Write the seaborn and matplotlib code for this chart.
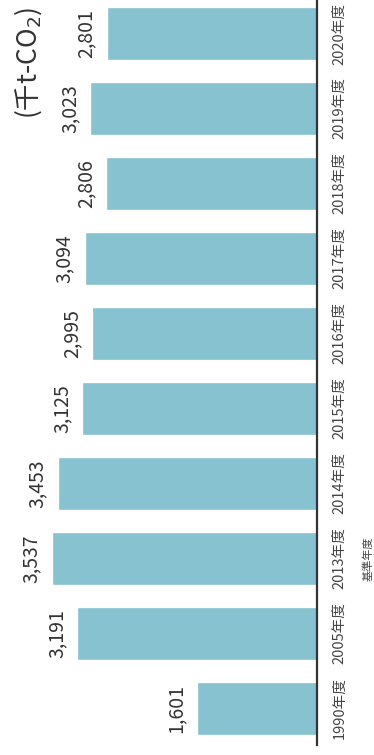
import matplotlib
matplotlib.use("Agg")
import matplotlib.pyplot as plt
import seaborn as sns
import pandas as pd

# Emissions by fiscal year (thousand t-CO2)
years = ["1990年度", "2005年度", "2013年度", "2014年度", "2015年度",
         "2016年度", "2017年度", "2018年度", "2019年度", "2020年度"]
emissions = [1601, 3191, 3537, 3453, 3125, 2995, 3094, 2806, 3023, 2801]
value_labels = ["1,601", "3,191", "3,537", "3,453", "3,125",
                "2,995", "3,094", "2,806", "3,023", "2,801"]
unit_label = "(千t-CO$_2$)"
base_year_note = "基準年度"
base_year = "2013年度"

sns.set_theme(style="white")
plt.rcParams["font.family"] = ["Noto Sans CJK JP", "DejaVu Sans"]

df = pd.DataFrame({"year": years, "value": emissions})
order = years[::-1]

W, H = 374, 755
fig = plt.figure(figsize=(W / 100, H / 100), dpi=100)
fig.patch.set_facecolor("white")
ax = fig.add_axes([0.0, 1 - 745 / H, 316.5 / W, 745 / H])

sns.barplot(data=df, x="value", y="year", order=order, orient="h",
            color="#86C2D0", saturation=1, width=0.7, ax=ax)

ax.set_xlim(4225, 0)
ax.set_ylim(9.487, -0.447)

for s in ["top", "bottom", "left"]:
    ax.spines[s].set_visible(False)
ax.spines["right"].set_visible(True)
ax.spines["right"].set_color("#333333")
ax.spines["right"].set_linewidth(1.6)

ax.set_xticks([])
ax.yaxis.tick_right()
ax.tick_params(axis="y", length=0, pad=11.5)
ax.set_yticks(range(len(order)))
ax.set_yticklabels(order, rotation=90, va="center", ha="left",
                   fontsize=10.5, color="#444444")
ax.set_xlabel("")
ax.set_ylabel("")

# Value labels at the end of each bar
lookup = dict(zip(years, zip(emissions, value_labels)))
for i, yr in enumerate(order):
    v, txt = lookup[yr]
    ax.annotate(txt, xy=(v, i), xytext=(-7, 0), textcoords="offset points",
                rotation=90, ha="right", va="center", fontsize=14,
                color="#333333")

# Base-year note under its category label
bi = order.index(base_year)
ax.annotate(base_year_note, xy=(0, bi), xycoords="data",
            xytext=(368 - 316.5, 0), textcoords="offset pixels",
            rotation=90, ha="center", va="center", fontsize=8,
            color="#444444", annotation_clip=False)

# Unit label
fig.text(28 / W, 1 - 63 / H, unit_label, rotation=90, ha="center",
         va="center", fontsize=19, color="#333333")

fig.savefig("out.png", dpi=100, facecolor="white")
